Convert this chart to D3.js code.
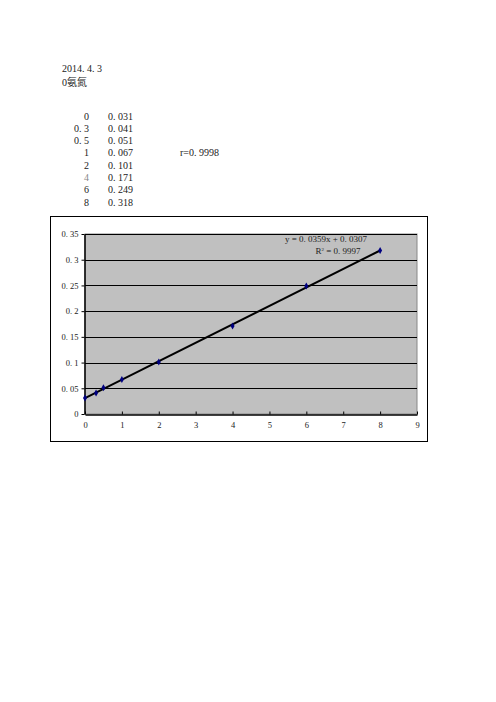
<!DOCTYPE html>
<html>
<head>
<meta charset="utf-8">
<script src="https://cdn.jsdelivr.net/npm/d3@7/dist/d3.min.js"></script>
<style>
body { margin: 0; background: #fff; }
text { font-family: "Liberation Serif", "Noto Sans CJK SC", serif; fill: #222; }
</style>
</head>
<body>
<svg id="svg-chart"></svg>
<script>
// data
var conc = [0, 0.3, 0.5, 1, 2, 4, 6, 8];
var absorb = [0.031, 0.041, 0.051, 0.067, 0.101, 0.171, 0.249, 0.318];
var concLabels = ['0', '0.3', '0.5', '1', '2', '4', '6', '8'];
var absLabels = ['0.031', '0.041', '0.051', '0.067', '0.101', '0.171', '0.249', '0.318'];
var xTicks = [0, 1, 2, 3, 4, 5, 6, 7, 8, 9];
var yTicks = [0, 0.05, 0.1, 0.15, 0.2, 0.25, 0.3, 0.35];
var slope = 0.0359, intercept = 0.0307;
var eqText = 'y = 0. 0359x + 0. 0307';
var r2Text = '0. 9997';

var svg = d3.select('#svg-chart').attr('width', 496).attr('height', 702);

// wide dot like the CJK font in the original
function wide(s) { return String(s).replace('.', '. '); }

/*=== header text ===*/
svg.append('text').attr('x', 62).attr('y', 72).style('font-size', '10px').text('2014. 4. 3');
svg.append('text').attr('x', 62).attr('y', 86).style('font-size', '10px').text('0氨氮');

var rowY = d3.scaleLinear().domain([0, 7]).range([119.5, 205.5]);
var table = svg.append('g').attr('class', 'table').style('font-size', '10px');
table.selectAll('.c1').data(concLabels).enter().append('text')
	.attr('x', 89).attr('y', function (d, i) { return rowY(i); })
	.attr('text-anchor', 'end')
	.style('fill', function (d) { return d === '4' ? '#888' : '#222'; })
	.text(function (d) { return wide(d); });
table.selectAll('.c2').data(absLabels).enter().append('text')
	.attr('x', 108).attr('y', function (d, i) { return rowY(i); })
	.text(function (d) { return wide(d); });
table.append('text').attr('x', 180).attr('y', rowY(3)).text('r=0. 9998');

/*=== chart ===*/
svg.append('rect').attr('x', 50.5).attr('y', 216.5).attr('width', 377).attr('height', 225)
	.attr('fill', '#fff').attr('stroke', '#000').attr('stroke-width', 1);

var x = d3.scaleLinear().domain([0, 9]).range([85, 417]);
var y = d3.scaleLinear().domain([0, 0.35]).range([414, 234]);

svg.append('rect').attr('x', x(0)).attr('y', y(0.35))
	.attr('width', x(9) - x(0)).attr('height', y(0) - y(0.35))
	.attr('fill', '#c0c0c0').attr('stroke', '#888').attr('stroke-width', 1);

svg.append('g').selectAll('line').data(yTicks.slice(1)).enter().append('line')
	.attr('x1', x(0)).attr('x2', x(9))
	.attr('y1', function (d) { return Math.round(y(d)) + 0.5; })
	.attr('y2', function (d) { return Math.round(y(d)) + 0.5; })
	.attr('stroke', '#000').attr('stroke-width', 1);

var xAxis = svg.append('g').attr('transform', 'translate(0,' + (y(0) + 0.5) + ')')
	.call(d3.axisBottom(x).tickValues(xTicks).tickSizeInner(-3).tickSizeOuter(0).tickPadding(7));
var yAxis = svg.append('g').attr('transform', 'translate(' + (x(0) - 0.5) + ',0)')
	.call(d3.axisLeft(y).tickValues(yTicks).tickSizeInner(3).tickSizeOuter(0).tickPadding(3)
		.tickFormat(function (d) { return wide(d3.format('')(+d.toFixed(2))); }));

[xAxis, yAxis].forEach(function (a) {
	a.select('.domain').attr('stroke', '#000').attr('stroke-width', 1.5);
	a.selectAll('.tick line').attr('stroke', '#000');
	a.selectAll('text').style('font-family', '"Liberation Serif", serif').style('font-size', '8.5px').attr('fill', '#222');
});
xAxis.selectAll('.tick text').attr('fill', function (d) { return d === 4 || d === 7 ? '#888' : '#222'; });

// trend line
svg.append('line')
	.attr('x1', x(0)).attr('y1', y(intercept))
	.attr('x2', x(8)).attr('y2', y(intercept + slope * 8))
	.attr('stroke', '#000').attr('stroke-width', 2);

// markers
svg.append('g').selectAll('path').data(conc).enter().append('path')
	.attr('d', d3.symbol().type(d3.symbolDiamond).size(14))
	.attr('transform', function (d, i) { return 'translate(' + x(d) + ',' + y(absorb[i]) + ')'; })
	.attr('fill', '#000080');

svg.append('text').attr('x', 326).attr('y', 241.5).attr('text-anchor', 'middle')
	.style('font-size', '9px').text(eqText);
var r2 = svg.append('text').attr('x', 338).attr('y', 253.5).attr('text-anchor', 'middle')
	.style('font-size', '9px');
r2.append('tspan').text('R');
r2.append('tspan').attr('dy', -3).style('font-size', '5px').text('2');
r2.append('tspan').attr('dy', 3).text(' = ' + r2Text);
</script>
</body>
</html>
